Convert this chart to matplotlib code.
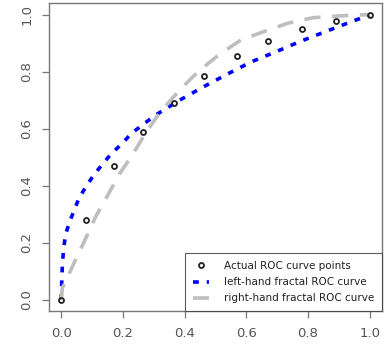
import numpy as np
import matplotlib
matplotlib.use("Agg")
import matplotlib.pyplot as plt

# Empirical ROC points (false positive rate, true positive rate)
actual_fpr = [0.0, 0.08, 0.17, 0.265, 0.365, 0.462, 0.57, 0.67, 0.78, 0.89, 1.0]
actual_tpr = [0.0, 0.28, 0.47, 0.59, 0.69, 0.785, 0.855, 0.91, 0.95, 0.98, 1.0]

# Left-hand fractal ROC curve
left_fpr = [0.0, 0.002, 0.004, 0.008, 0.015, 0.029, 0.058, 0.082, 0.107, 0.161,
            0.196, 0.229, 0.264, 0.304, 0.383, 0.462, 0.54, 0.616, 0.697, 0.773,
            0.856, 0.933, 1.0]
left_tpr = [0.0, 0.06, 0.12, 0.18, 0.232, 0.278, 0.357, 0.4, 0.44, 0.511,
            0.547, 0.585, 0.614, 0.647, 0.70, 0.748, 0.793, 0.835, 0.871, 0.906,
            0.941, 0.973, 1.0]

# Right-hand fractal ROC curve
right_fpr = [0.0, 0.004, 0.04, 0.075, 0.112, 0.15, 0.188, 0.231, 0.275, 0.318,
             0.383, 0.443, 0.511, 0.583, 0.656, 0.735, 0.816, 0.897, 0.973, 1.0]
right_tpr = [0.0, 0.041, 0.125, 0.205, 0.292, 0.365, 0.44, 0.509, 0.587, 0.655,
             0.735, 0.80, 0.86, 0.912, 0.941, 0.971, 0.99, 0.996, 1.0, 1.0]

ticks = [0.0, 0.2, 0.4, 0.6, 0.8, 1.0]
tick_labels = ["0.0", "0.2", "0.4", "0.6", "0.8", "1.0"]

fig = plt.figure(figsize=(3.84, 3.47), dpi=100)
ax = fig.add_axes([0.127, 0.103, 0.868, 0.887])

ax.plot(left_fpr, left_tpr, color="#0000ff", lw=2.6, dashes=(1.6, 2.2),
        dash_capstyle="butt", label="left-hand fractal ROC curve", zorder=2)
ax.plot(right_fpr, right_tpr, color="#bebebe", lw=2.6, dashes=(4.5, 3.2),
        label="right-hand fractal ROC curve", zorder=2)
ax.plot(actual_fpr, actual_tpr, ls="none", marker="o", ms=3.6, mfc="none",
        mec="#222222", mew=1.3, label="Actual ROC curve points", zorder=3)

ax.set_xlim(-0.04, 1.04)
ax.set_ylim(-0.04, 1.04)
ax.set_xticks(ticks)
ax.set_xticklabels(tick_labels)
ax.set_yticks(ticks)
ax.set_yticklabels(tick_labels, rotation=90, va="center")

for sp in ax.spines.values():
    sp.set_color("#777777")
    sp.set_linewidth(1.0)
ax.tick_params(axis="both", direction="out", length=5, width=0.9,
               color="#777777", labelsize=9.5, labelcolor="#555555", pad=6)

handles, labels = ax.get_legend_handles_labels()
order = [2, 0, 1]
leg = ax.legend([handles[i] for i in order], [labels[i] for i in order],
                loc="lower right", fontsize=7.5, frameon=True, fancybox=False,
                borderaxespad=0, handlelength=1.6, handletextpad=1.4,
                labelspacing=0.6, borderpad=0.75)
leg.get_frame().set_edgecolor("#333333")
leg.get_frame().set_linewidth(0.8)
for t in leg.get_texts():
    t.set_color("#222222")

fig.savefig("out.png", dpi=100)
